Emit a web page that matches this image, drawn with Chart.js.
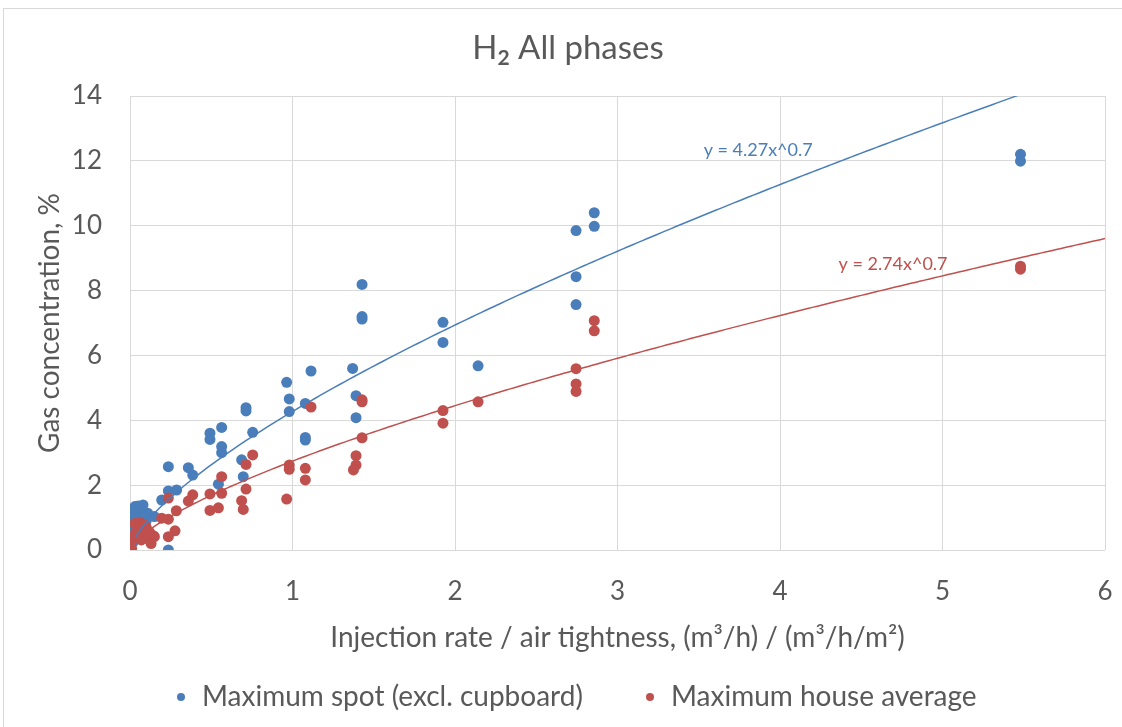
<!DOCTYPE html>
<html>
<head>
<meta charset="utf-8">
<script src="https://cdn.jsdelivr.net/npm/chart.js@4.4.1/dist/chart.umd.min.js"></script>
<style>
  html, body { margin: 0; padding: 0; background: #fff; overflow: hidden; }
  #wrap { position: relative; width: 1122px; height: 727px; }
  #frame { position: absolute; left: 3px; top: 8px; width: 1130px; height: 730px; border: 1px solid #d9d9d9; pointer-events: none; }
</style>
</head>
<body>
<div id="wrap">
  <canvas id="h2Chart" width="1122" height="727"></canvas>
  <div id="frame"></div>
</div>
<script>
// Maximum spot concentration (excl. cupboard)
const spotX = [5.48, 5.48, 2.857, 2.857, 2.745, 2.745, 2.745, 1.926, 1.926, 2.142,
  1.428, 1.428, 1.428, 1.391, 1.391, 1.370, 1.114, 1.079, 1.079, 1.079,
  0.980, 0.980, 0.964, 0.755, 0.714, 0.714, 0.697, 0.687, 0.564, 0.564,
  0.564, 0.544, 0.492, 0.492, 0.386, 0.359, 0.287, 0.236, 0.236, 0.236,
  0.195, 0.15, 0.11, 0.08, 0.05, 0.03, 0.02, 0.015, 0.01, 0.005,
  0.02, 0.04, 0.06, 0.10, 0.00, 0.01, 0.03, 0.07];
const spotY = [12.20, 11.99, 10.40, 9.98, 9.85, 8.43, 7.57, 7.02, 6.40, 5.68,
  8.19, 7.20, 7.12, 4.76, 4.08, 5.60, 5.52, 4.52, 3.47, 3.39,
  4.66, 4.27, 5.17, 3.63, 4.39, 4.29, 2.26, 2.78, 3.78, 3.19,
  3.00, 2.03, 3.60, 3.41, 2.31, 2.54, 1.85, 2.57, 1.82, 0.00,
  1.54, 1.03, 1.13, 1.39, 1.36, 1.34, 1.03, 0.82, 0.56, 0.35,
  0.25, 1.20, 0.95, 0.90, 0.70, 1.20, 0.90, 1.25];

// Maximum house average concentration
const houseX = [5.48, 5.48, 2.857, 2.857, 2.745, 2.745, 2.745, 1.926, 1.926, 2.142,
  1.428, 1.428, 1.428, 1.391, 1.391, 1.375, 1.114, 1.079, 1.079, 0.980,
  0.980, 0.964, 0.755, 0.714, 0.714, 0.697, 0.687, 0.564, 0.564, 0.544,
  0.492, 0.492, 0.386, 0.359, 0.285, 0.277, 0.236, 0.236, 0.236, 0.195,
  0.15, 0.144, 0.13, 0.09, 0.07, 0.05, 0.03, 0.02, 0.01, 0.005,
  0.04, 0.06, 0.10, 0.12, 0.00, 0.03, 0.06, 0.08, 0.11];
const houseY = [8.75, 8.66, 7.07, 6.76, 5.59, 5.12, 4.89, 4.30, 3.91, 4.57,
  4.63, 4.57, 3.46, 2.91, 2.62, 2.47, 4.41, 2.52, 2.16, 2.62,
  2.49, 1.57, 2.93, 2.64, 1.88, 1.25, 1.52, 2.26, 1.75, 1.30,
  1.73, 1.22, 1.70, 1.51, 1.21, 0.59, 1.60, 0.95, 0.41, 0.98,
  0.41, 0.44, 0.20, 0.62, 0.31, 0.77, 0.82, 0.36, 0.05, 0.20,
  0.55, 0.85, 0.70, 0.55, 0.10, 0.50, 0.45, 0.80, 0.35];

// power trendlines y = a * x^b
const spotFit = { a: 4.27, b: 0.7, label: 'y = 4.27x^0.7', at: [3.53, 12.33] };
const houseFit = { a: 2.74, b: 0.7, label: 'y = 2.74x^0.7', at: [4.36, 8.82] };

const xTicks = [0, 1, 2, 3, 4, 5, 6];
const yTicks = [0, 2, 4, 6, 8, 10, 12, 14];

const BLUE = '#4a7ebb';
const RED = '#c0504d';
const GREY = '#595959';
const FONT = 'Lato, "Liberation Sans", sans-serif';

function toPoints(xs, ys) {
  return xs.map((x, i) => ({ x: x, y: ys[i] }));
}

function fitCurve(fit) {
  const pts = [];
  for (let x = 0.03; x <= 6.001; x += 0.03) {
    pts.push({ x: x, y: fit.a * Math.pow(x, fit.b) });
  }
  return pts;
}

// title with subscript, trendline equations and the legend row
const textPlugin = {
  id: 'texts',
  afterDraw(chart) {
    const ctx = chart.ctx;
    ctx.save();
    ctx.fillStyle = GREY;
    ctx.textBaseline = 'alphabetic';
    const big = '33px ' + FONT;
    const small = 'bold 21px ' + FONT;
    ctx.font = big;
    const wH = ctx.measureText('H').width;
    const wRest = ctx.measureText(' All phases').width;
    ctx.font = small;
    const w2 = ctx.measureText('2').width;
    let x = 568 - (wH + w2 + wRest) / 2;
    const base = 59;
    ctx.font = big;
    ctx.textAlign = 'left';
    ctx.fillText('H', x, base);
    x += wH;
    ctx.font = small;
    ctx.fillText('2', x, base + 6);
    x += w2;
    ctx.font = big;
    ctx.fillText(' All phases', x, base);

    const xs = chart.scales.x, ys = chart.scales.y;
    ctx.font = '18px ' + FONT;
    ctx.textBaseline = 'middle';
    [[spotFit, BLUE], [houseFit, RED]].forEach(([f, c]) => {
      ctx.fillStyle = c;
      ctx.fillText(f.label, xs.getPixelForValue(f.at[0]), ys.getPixelForValue(f.at[1]));
    });

    // legend
    const legendX = [181, 650];
    const legendY = 697;
    ctx.font = '28px ' + FONT;
    chart.data.datasets.slice(0, 2).forEach((ds, i) => {
      ctx.fillStyle = ds.backgroundColor;
      ctx.beginPath();
      ctx.arc(legendX[i], legendY, 4, 0, Math.PI * 2);
      ctx.fill();
      ctx.fillStyle = GREY;
      ctx.fillText(ds.label, legendX[i] + 21, legendY);
    });
    ctx.restore();
  }
};

const ctx = document.getElementById('h2Chart').getContext('2d');
new Chart(ctx, {
  type: 'scatter',
  data: {
    datasets: [
      {
        label: 'Maximum spot (excl. cupboard)',
        data: toPoints(spotX, spotY),
        backgroundColor: BLUE,
        borderColor: BLUE,
        pointRadius: 5.5,
        pointBorderWidth: 0,
        order: 3
      },
      {
        label: 'Maximum house average',
        data: toPoints(houseX, houseY),
        backgroundColor: RED,
        borderColor: RED,
        pointRadius: 5.5,
        pointBorderWidth: 0,
        order: 2
      },
      {
        label: 'trend spot',
        type: 'line',
        data: fitCurve(spotFit),
        borderColor: BLUE,
        borderWidth: 1.5,
        pointRadius: 0,
        tension: 0,
        order: 1
      },
      {
        label: 'trend house',
        type: 'line',
        data: fitCurve(houseFit),
        borderColor: RED,
        borderWidth: 1.5,
        pointRadius: 0,
        tension: 0,
        order: 1
      }
    ]
  },
  options: {
    responsive: false,
    animation: false,
    layout: { padding: { top: 96, right: 17, left: 0, bottom: 72 } },
    plugins: {
      title: { display: false },
      tooltip: { enabled: false },
      legend: { display: false }
    },
    scales: {
      x: {
        type: 'linear',
        min: 0,
        max: 6,
        afterBuildTicks: s => { s.ticks = xTicks.map(v => ({ value: v })); },
        afterFit: s => { s.height = 105; },
        grid: { color: '#d9d9d9', drawTicks: true, tickLength: 23, tickColor: 'rgba(0,0,0,0)' },
        border: { display: false },
        ticks: { color: GREY, padding: 3, font: { family: FONT, size: 26 } },
        title: {
          display: true,
          text: 'Injection rate / air tightness, (m³/h) / (m³/h/m²)',
          color: GREY,
          font: { family: FONT, size: 28 },
          padding: { top: 0, bottom: 0 }
        }
      },
      y: {
        type: 'linear',
        min: 0,
        max: 14,
        afterBuildTicks: s => { s.ticks = yTicks.map(v => ({ value: v })); },
        afterFit: s => { s.width = 130; },
        grid: { color: '#d9d9d9', drawTicks: true, tickLength: 25, tickColor: 'rgba(0,0,0,0)' },
        border: { display: false },
        ticks: { color: GREY, padding: 3, font: { family: FONT, size: 26 } },
        title: {
          display: true,
          text: 'Gas concentration, %',
          color: GREY,
          font: { family: FONT, size: 28 },
          padding: { top: 33, bottom: 0 }
        }
      }
    }
  },
  plugins: [textPlugin]
});
</script>
</body>
</html>
